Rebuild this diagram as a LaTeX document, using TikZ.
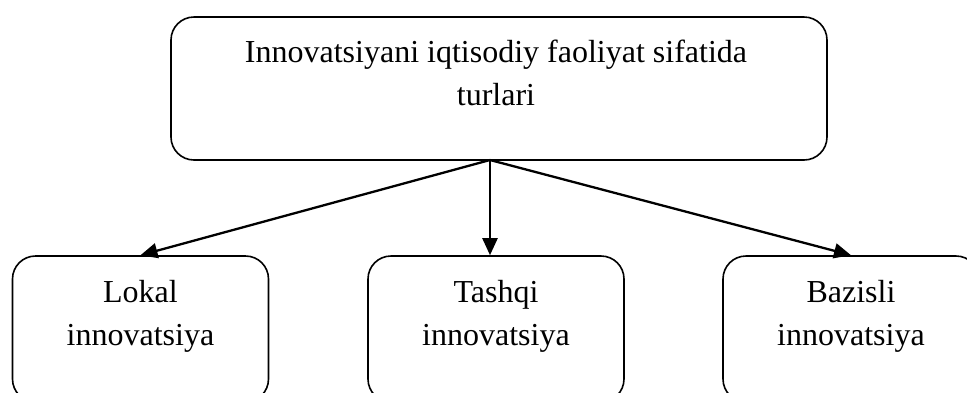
\documentclass[tikz,border=0pt]{standalone}
\usepackage{fontspec}
\setmainfont{Liberation Serif}
\usetikzlibrary{arrows.meta}

\begin{document}
\begin{tikzpicture}[x=1pt,y=-1pt,>={Triangle[length=17pt,width=15pt]}]
    % Define size of lower boxes
    \def\BoxW{256};
    \def\BoxH{146};

    % Fix the frame of the picture
    \useasboundingbox[fill=white] (0,0) rectangle (967,392);
    \clip (0,0) rectangle (967,392);

    \tikzset{
        typebox/.style={draw, line width=1.6pt, rounded corners=23pt, inner sep=0pt},
        typetext/.style={align=center, font=\fontsize{32}{43}\selectfont, inner sep=0pt},
        typearrow/.style={->, line width=2.3pt}
    }

    % Draw top box
    \node[typebox, minimum width=656pt, minimum height=143pt] (top) at (499,88.5) {};
    \node[typetext] (toptext) at (496,73) {Innovatsiyani iqtisodiy faoliyat sifatida\\turlari};

    % Draw lower boxes
    \node[typebox, minimum width=\BoxW pt, minimum height=\BoxH pt] (lokal) at (140.5,329) {};
    \node[typebox, minimum width=\BoxW pt, minimum height=\BoxH pt] (tashqi) at (496,329) {};
    \node[typebox, minimum width=\BoxW pt, minimum height=\BoxH pt] (bazisli) at (851,329) {};
    \node[typetext] (lokaltext) at (140.5,316) {Lokal\\innovatsiya};
    \node[typetext] (tashqitext) at (496,316) {Tashqi\\innovatsiya};
    \node[typetext] (bazislitext) at (851,316) {Bazisli\\innovatsiya};

    % Draw arrows from the top box
    \coordinate (hub) at (490,160);
    \draw[typearrow] (hub) -- (lokal.north);
    \draw[typearrow] (hub) -- (hub |- tashqi.north);
    \draw[typearrow] (hub) -- (bazisli.north);
\end{tikzpicture}
\end{document}
